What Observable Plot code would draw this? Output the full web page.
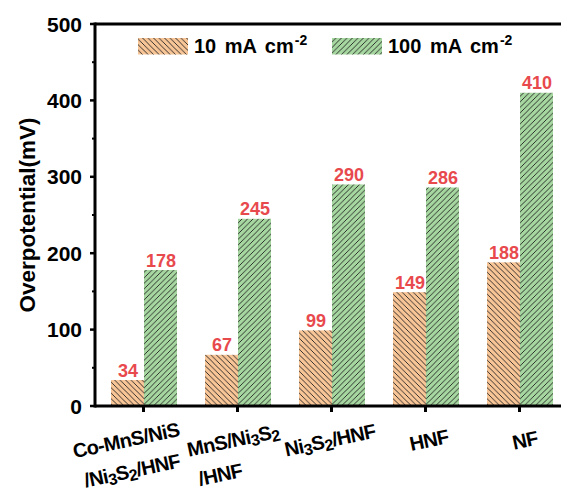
<!DOCTYPE html>
<html><head><meta charset="utf-8">
<script src="https://cdn.jsdelivr.net/npm/d3@7"></script>
<script src="https://cdn.jsdelivr.net/npm/@observablehq/plot@0.6"></script>
<style>html,body{margin:0;padding:0;background:#fff;overflow:hidden}</style>
</head><body><div id="chart"></div>
<script>
// ---- data ----
const categories = ["Co-MnS/NiS/Ni3S2/HNF", "MnS/Ni3S2/HNF", "Ni3S2/HNF", "HNF", "NF"];
const tickLabels = ["Co-MnS/NiS\n/Ni_3S_2/HNF", "MnS/Ni_3S_2\n/HNF", "Ni_3S_2/HNF", "HNF", "NF"];
const series = ["10 mA cm-2", "100 mA cm-2"];
const legendLabels = [["10 mA cm", "-2"], ["100 mA cm", "-2"]];
const values10 = [34, 67, 99, 149, 188];
const values100 = [178, 245, 290, 286, 410];
const yTicks = [0, 100, 200, 300, 400, 500];
const yMinorTicks = [50, 150, 250, 350, 450];
const yLabel = "Overpotential(mV)";

const data = categories.flatMap((c, i) => [
  {cat: c, series: series[0], value: values10[i]},
  {cat: c, series: series[1], value: values100[i]}
]);

// ---- layout ----
const W = 561, H = 495, ML = 95, MR = 0, MT = 24, MB = 89;
const FONT = "'Liberation Sans', Arial, Helvetica, sans-serif";
const fxOpts = {paddingInner: 0.289, paddingOuter: 0.118, align: 0.667};
const tickLabelNudge = [-16, -3, 0, 5, 7];

const chart = Plot.plot({
  width: W, height: H,
  marginLeft: ML, marginRight: MR, marginTop: MT, marginBottom: MB,
  style: {fontFamily: FONT, fontWeight: "bold", background: "white", overflow: "visible"},
  fx: {domain: categories, ...fxOpts, axis: null, label: null},
  x: {domain: series, padding: 0, axis: null},
  y: {domain: [0, 500], axis: null},
  color: {domain: series, range: ["url(#hatch10)", "url(#hatch100)"]},
  marks: [
    Plot.barY(data, {fx: "cat", x: "series", y: "value", fill: "series"}),
    Plot.text(data, {fx: "cat", x: "series", y: "value", text: d => String(d.value),
      dy: -4, lineAnchor: "bottom", fill: "#e8494d", fontSize: 18, fontWeight: "bold"})
  ]
});
document.getElementById("chart").appendChild(chart);

const svg = d3.select(chart);
// hatch patterns
const defs = svg.insert("defs", ":first-child");
function hatch(id, bg, back) {
  const s = 5.5;
  const p = defs.append("pattern").attr("id", id).attr("patternUnits", "userSpaceOnUse")
    .attr("width", s).attr("height", s);
  p.append("rect").attr("width", s).attr("height", s).attr("fill", bg);
  const d = back
    ? `M0,0L${s},${s}M${-s/2},${s/2}L${s/2},${s*1.5}M${s/2},${-s/2}L${s*1.5},${s/2}`
    : `M0,${s}L${s},0M${-s/2},${s/2}L${s/2},${-s/2}M${s/2},${s*1.5}L${s*1.5},${s/2}`;
  p.append("path").attr("d", d).attr("stroke", "#222").attr("stroke-width", 0.9).attr("fill", "none");
}
hatch("hatch10", "#f8c597", true);
hatch("hatch100", "#a6d7a0", false);

// scales from the plot
const y = chart.scale("y");
let fxS = chart.scale("fx");
let fxPos, bw;
if (fxS && fxS.apply) { fxPos = v => fxS.apply(v); bw = fxS.bandwidth; }
else {
  const b = d3.scaleBand().domain(categories).range([ML, W - MR])
    .paddingInner(fxOpts.paddingInner).paddingOuter(fxOpts.paddingOuter).align(fxOpts.align);
  fxPos = b; bw = b.bandwidth();
}
const y0 = y.apply(0), y1 = y.apply(500);

const ax = svg.append("g").attr("stroke", "#000").attr("fill", "none");
ax.append("line").attr("x1", ML).attr("x2", W).attr("y1", y1).attr("y2", y1).attr("stroke-width", 3);
ax.append("line").attr("x1", ML).attr("x2", W).attr("y1", y0).attr("y2", y0).attr("stroke-width", 3);
ax.append("line").attr("x1", ML).attr("x2", ML).attr("y1", y1 - 1.5).attr("y2", y0 + 1.5).attr("stroke-width", 3);
yTicks.forEach(v => ax.append("line").attr("x1", ML - 5).attr("x2", ML).attr("y1", y.apply(v)).attr("y2", y.apply(v)).attr("stroke-width", 2.5));
yMinorTicks.forEach(v => ax.append("line").attr("x1", ML - 3).attr("x2", ML).attr("y1", y.apply(v)).attr("y2", y.apply(v)).attr("stroke-width", 2));
categories.forEach(c => {
  const cx = fxPos(c) + bw / 2;
  ax.append("line").attr("x1", cx).attr("x2", cx).attr("y1", y0).attr("y2", y0 + 6).attr("stroke-width", 3);
});

const tg = svg.append("g").attr("font-family", FONT).attr("font-weight", "bold").attr("fill", "#000");
yTicks.forEach(v => tg.append("text").attr("x", ML - 13).attr("y", y.apply(v)).attr("dy", "0.36em")
  .attr("text-anchor", "end").attr("font-size", 21).text(v));
tg.append("text").attr("transform", `translate(27,${(y0 + y1) / 2}) rotate(-90)`)
  .attr("text-anchor", "middle").attr("dominant-baseline", "central").attr("font-size", 22.5).text(yLabel);

function rich(textSel, str) {
  const toks = str.split(/(_\d)/).filter(Boolean);
  let prevSub = false;
  toks.forEach(t => {
    if (t.startsWith("_")) {
      textSel.append("tspan").attr("font-size", 16).attr("dy", prevSub ? 0 : 3).text(t.slice(1));
      prevSub = true;
    } else {
      textSel.append("tspan").attr("dy", prevSub ? -3 : 0).text(t);
      prevSub = false;
    }
  });
}
categories.forEach((c, i) => {
  const cx = fxPos(c) + bw / 2 + tickLabelNudge[i];
  const g = tg.append("g").attr("transform", `translate(${cx},${y0 + 41}) rotate(-12)`).attr("font-size", 20);
  const lines = tickLabels[i].split("\n");
  const t1 = g.append("text").attr("text-anchor", "middle").attr("letter-spacing", -0.6);
  rich(t1, lines[0]);
  if (lines[1]) {
    const w1 = t1.node().getComputedTextLength();
    const t2 = g.append("text").attr("x", -w1 / 2 + 5).attr("y", 31).attr("text-anchor", "start").attr("letter-spacing", -0.6);
    rich(t2, lines[1]);
  }
});

// legend
const lg = svg.append("g").attr("font-family", FONT).attr("font-weight", "bold").attr("text-anchor", "start");
const legendX = [138, 332];
series.forEach((s, i) => {
  lg.append("rect").attr("x", legendX[i]).attr("y", 38).attr("width", 50).attr("height", 16.5)
    .attr("fill", chart.scale("color").apply(s));
  const t = lg.append("text").attr("x", legendX[i] + 56).attr("y", 52.5).attr("font-size", 20)
    .attr("text-anchor", "start").attr("word-spacing", 3);
  t.append("tspan").text(legendLabels[i][0]);
  t.append("tspan").attr("font-size", 14).attr("dy", -8).attr("dx", 1).text(legendLabels[i][1]);
});
</script></body></html>
